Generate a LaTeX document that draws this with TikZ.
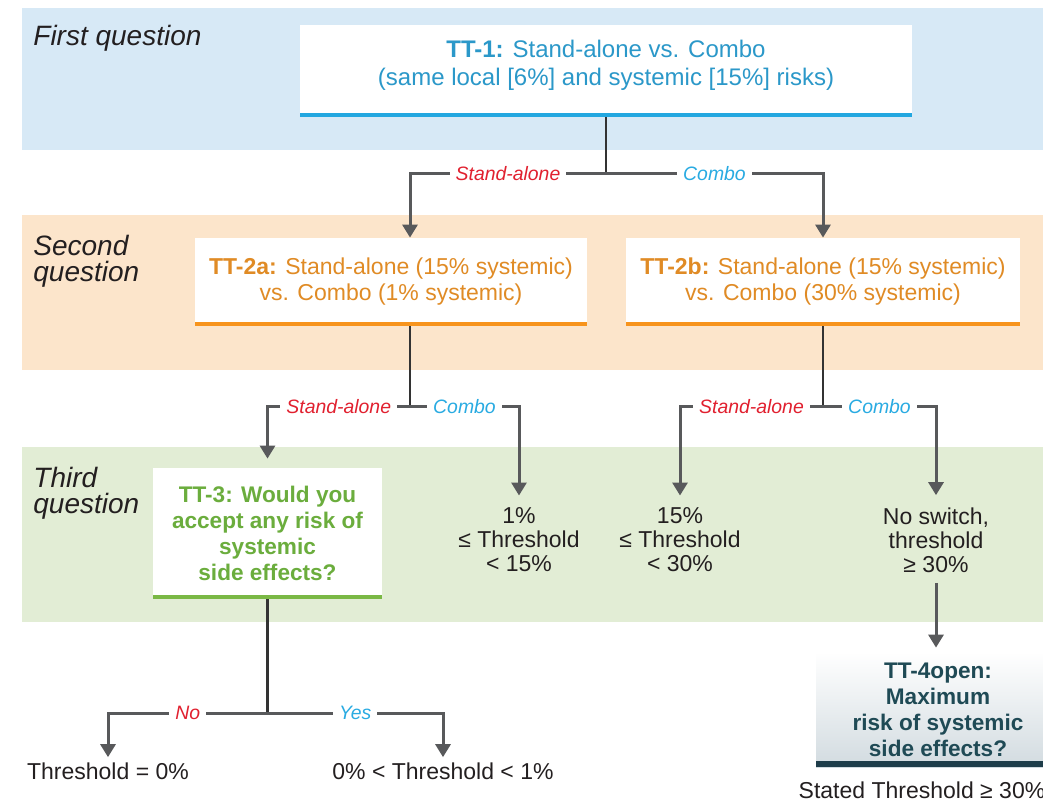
\documentclass[tikz,border=0pt]{standalone}
\usepackage{fontspec}
\setmainfont{Liberation Sans}
\usetikzlibrary{arrows.meta, positioning}

\definecolor{bandblue}{HTML}{D7E9F6}
\definecolor{bandorange}{HTML}{FCE5CB}
\definecolor{bandgreen}{HTML}{E2EDD5}
\definecolor{qblue}{HTML}{2B98C9}
\definecolor{barblue}{HTML}{22A7E0}
\definecolor{qorange}{HTML}{E08B25}
\definecolor{barorange}{HTML}{F7941D}
\definecolor{qgreen}{HTML}{6BAD3D}
\definecolor{bargreen}{HTML}{7AB845}
\definecolor{qteal}{HTML}{1F4A55}
\definecolor{barteal}{HTML}{1E3D4A}
\definecolor{gradteal}{HTML}{D2DBE0}
\definecolor{choicered}{HTML}{E1202F}
\definecolor{choiceblue}{HTML}{29ABE2}
\definecolor{linegray}{HTML}{58595B}
\definecolor{stemgray}{HTML}{333333}
\definecolor{inkblack}{HTML}{231F20}

\begin{document}
\begin{tikzpicture}[
    x=0.5pt, y=-0.5pt,
    qbox/.style 2 args={fill=white, inner sep=0pt, align=center,
        path picture={\fill[#1] ([yshift=#2]path picture bounding box.south west) rectangle (path picture bounding box.south east);}},
    bandlabel/.style={anchor=west, align=left, inner sep=0pt, text=inkblack, font=\itshape\fontsize{14}{13}\selectfont},
    result/.style={align=center, inner sep=0pt, text=inkblack, font=\fontsize{11.5}{12}\selectfont},
    choice/.style={fill=white, inner xsep=3pt, inner ysep=1pt, font=\itshape\fontsize{9.7}{10}\selectfont},
    stem/.style={draw=stemgray, line width=1.3pt},
    arrow/.style={draw=linegray, line width=1.5pt, -{Triangle[width=7.5pt, length=6.5pt]}}
]
\useasboundingbox (0,0) rectangle (1043,804);
\clip (0,0) rectangle (1043,804);

% Question bands
\foreach \top/\bot/\col in {8/150/bandblue, 215/370/bandorange, 447/622/bandgreen}
    \fill[\col] (22,\top) rectangle (1043,\bot);

\node[bandlabel] (q1label) at (33,38) {First question};
\node[bandlabel] (q2label) at (33,261) {Second\\question};
\node[bandlabel] (q3label) at (33,493) {Third\\question};

% Question boxes
\node[qbox={barblue}{2pt}, text=qblue, minimum width=306pt, minimum height=46pt, text depth=8.6pt,
      font=\fontsize{12}{14}\selectfont] (tt1) at (606,71)
      {\textbf{TT-1:} Stand-alone vs. Combo\\(same local [6\%] and systemic [15\%] risks)};
\node[qbox={barorange}{2.2pt}, text=qorange, minimum width=196pt, minimum height=44pt,
      font=\fontsize{11.5}{13}\selectfont] (tt2a) at (391,282)
      {\textbf{TT-2a:} Stand-alone (15\% systemic)\\vs. Combo (1\% systemic)};
\node[qbox={barorange}{2.2pt}, text=qorange, minimum width=197pt, minimum height=44pt,
      font=\fontsize{11.5}{13}\selectfont] (tt2b) at (823,282)
      {\textbf{TT-2b:} Stand-alone (15\% systemic)\\vs. Combo (30\% systemic)};
\node[qbox={bargreen}{2pt}, text=qgreen, minimum width=114.5pt, minimum height=65.5pt,
      font=\bfseries\fontsize{11.3}{13}\selectfont] (tt3) at (267.5,533.5)
      {TT-3: Would you\\accept any risk of\\systemic\\side effects?};
\node[qbox={barteal}{3pt}, top color=white, bottom color=gradteal, text=qteal,
      minimum width=122pt, minimum height=57.5pt,
      font=\bfseries\fontsize{11.3}{13}\selectfont] (tt4) at (938,709.5)
      {TT-4open:\\Maximum\\risk of systemic\\side effects?};

% Outcomes
\node[result] (th1) at (519,540) {1\%\\≤ Threshold\\< 15\%};
\node[result] (th2) at (680,540) {15\%\\≤ Threshold\\< 30\%};
\node[result] (th3) at (936,540) {No switch,\\threshold\\≥ 30\%};
\node[result] (t0) at (108,771) {Threshold = 0\%};
\node[result] (t1) at (443,771) {0\% < Threshold < 1\%};
\node[result, below=7pt of tt4, xshift=-8pt] (stated) {Stated Threshold ≥ 30\%};

% Split points
\coordinate[below=28pt of tt1.south] (s1);
\coordinate[below=40pt of tt2a.south, xshift=9.5pt] (s2a);
\coordinate[below=40pt of tt2b.south] (s2b);
\coordinate[below=57pt of tt3.south] (s3);

% First question
\draw[stem] (tt1.south) -- (s1);
\draw[arrow] (s1) -| node[choice, pos=0.25, text=choicered] {Stand-alone} ([xshift=9.5pt]tt2a.north);
\draw[arrow] (s1) -| node[choice, pos=0.25, text=choiceblue] {Combo} (tt2b.north);

% Second question
\draw[stem] ([xshift=9.5pt]tt2a.south) -- (s2a);
\draw[arrow, shorten >=4.5pt] (s2a) -| node[choice, pos=0.25, text=choicered] {Stand-alone} (tt3.north);
\draw[arrow, shorten >=6pt] (s2a) -| node[choice, pos=0.25, text=choiceblue] {Combo} (th1.north);
\draw[stem] (tt2b.south) -- (s2b);
\draw[arrow, shorten >=6pt] (s2b) -| node[choice, pos=0.25, text=choicered] {Stand-alone} (th2.north);
\draw[arrow, shorten >=6pt] (s2b) -| node[choice, pos=0.25, text=choiceblue] {Combo} (th3.north);

% Third question
\draw[stem] (tt3.south) -- (s3);
\draw[arrow, shorten >=2.5pt] (s3) -| node[choice, pos=0.25, text=choicered] {No} (t0.north);
\draw[arrow, shorten >=2.5pt] (s3) -| node[choice, pos=0.25, text=choiceblue] {Yes} (t1.north);

% Open question
\draw[arrow, shorten <=5pt, shorten >=2pt] (th3.south) -- (th3.south |- tt4.north);

\end{tikzpicture}
\end{document}
